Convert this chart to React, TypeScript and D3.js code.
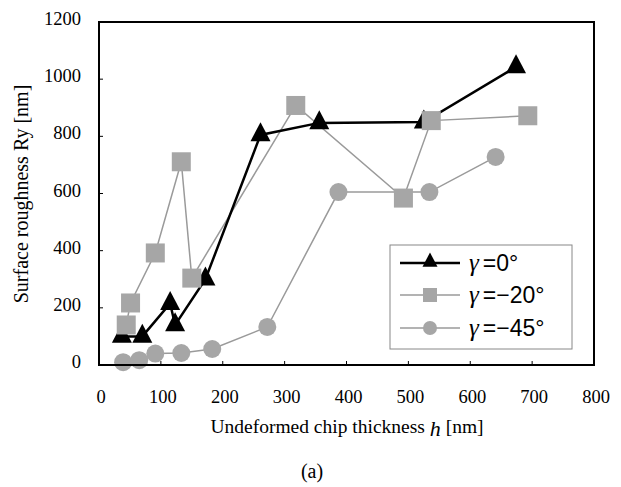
import React from "react";
import * as d3 from "d3";

const xTicks = [0, 100, 200, 300, 400, 500, 600, 700, 800];
const yTicks = [0, 200, 400, 600, 800, 1000, 1200];

const triX = [37, 70, 115, 123, 172, 261, 356, 525, 674];
const triY = [100, 100, 215, 140, 300, 805, 847, 850, 1043];

const sqX = [44, 51, 91, 133, 150, 318, 492, 537, 693];
const sqY = [140, 217, 392, 711, 304, 908, 584, 855, 872];

const ciX = [39, 65, 91, 133, 183, 272, 387, 534, 641];
const ciY = [10, 17, 40, 42, 56, 133, 605, 605, 728];

const legendLabels = ["=0°", "=−20°", "=−45°"];

const W = 621;
const H = 487;
const m = { left: 99, right: 594, top: 22, bottom: 365 };

export default function App() {
  const x = d3.scaleLinear().domain([0, 800]).range([m.left, m.right]);
  const y = d3.scaleLinear().domain([0, 1200]).range([m.bottom, m.top]);

  const line = d3
    .line<[number, number]>()
    .x((d) => x(d[0]))
    .y((d) => y(d[1]));

  const tri = triX.map((v, i) => [v, triY[i]] as [number, number]);
  const sq = sqX.map((v, i) => [v, sqY[i]] as [number, number]);
  const ci = ciX.map((v, i) => [v, ciY[i]] as [number, number]);

  const gray = "#a6a6a6";
  const grayLine = "#9a9a9a";

  const triPath = (cx: number, cy: number, w: number) => {
    const h = w * 0.95;
    return `M${cx},${cy - (2 * h) / 3}L${cx + w / 2},${cy + h / 3}L${cx - w / 2},${cy + h / 3}Z`;
  };

  const serif = "'Liberation Serif', 'Times New Roman', serif";
  const sans = "'Liberation Sans', Arial, sans-serif";

  const legX = 390;
  const legY = 245;
  const legW = 182;
  const legH = 104;
  const rows = [263, 295, 328];

  return (
    <svg
      width={W}
      height={H}
      style={{ position: "absolute", left: 0, top: 0, background: "#fff" }}
    >
      <rect x={0} y={0} width={W} height={H} fill="#fff" />
      {/* ticks */}
      {xTicks.map((t) => (
        <g key={"xt" + t}>
          <line x1={x(t)} x2={x(t)} y1={m.bottom} y2={m.bottom - 4} stroke="#000" strokeWidth={1} />
          <text x={x(t) + 2} y={403} textAnchor="middle" fontFamily={serif} fontSize={18.5}>
            {t}
          </text>
        </g>
      ))}
      {yTicks.map((t) => (
        <g key={"yt" + t}>
          <line x1={m.left} x2={m.left + 4} y1={y(t)} y2={y(t)} stroke="#000" strokeWidth={1} />
          <text x={81} y={y(t) + 3} textAnchor="end" fontFamily={serif} fontSize={18.5}>
            {t}
          </text>
        </g>
      ))}
      {/* lines */}
      <path d={line(ci) || ""} fill="none" stroke={grayLine} strokeWidth={1.5} />
      <path d={line(sq) || ""} fill="none" stroke={grayLine} strokeWidth={1.5} />
      <path d={line(tri) || ""} fill="none" stroke="#000" strokeWidth={2.5} />
      {/* markers */}
      {tri.map((d, i) => (
        <path key={"t" + i} d={triPath(x(d[0]), y(d[1]), 20)} fill="#000" />
      ))}
      {sq.map((d, i) => (
        <rect
          key={"s" + i}
          x={x(d[0]) - 9.5}
          y={y(d[1]) - 9.5}
          width={19}
          height={19}
          fill={gray}
        />
      ))}
      {ci.map((d, i) => (
        <circle key={"c" + i} cx={x(d[0])} cy={y(d[1])} r={9} fill={gray} />
      ))}
      {/* frame */}
      <rect
        x={m.left}
        y={m.top}
        width={m.right - m.left}
        height={m.bottom - m.top}
        fill="none"
        stroke="#000"
        strokeWidth={2}
      />
      {/* legend */}
      <rect x={legX} y={legY} width={legW} height={legH} fill="#fff" stroke="#888" strokeWidth={1} />
      {rows.map((ry, i) => (
        <g key={"l" + i}>
          <line
            x1={400}
            x2={460}
            y1={ry}
            y2={ry}
            stroke={i === 0 ? "#000" : grayLine}
            strokeWidth={i === 0 ? 2.5 : 1.5}
          />
          {i === 0 && <path d={triPath(430, ry - 1, 15)} fill="#000" />}
          {i === 1 && <rect x={423} y={ry - 7} width={14} height={14} fill={gray} />}
          {i === 2 && <circle cx={430} cy={ry} r={7} fill={gray} />}
          <text x={469} y={ry + 8} fontFamily={sans} fontSize={23}>
            <tspan fontFamily={serif} fontStyle="italic" fontSize={25}>
              γ
            </tspan>
            <tspan dx={4}>{legendLabels[i]}</tspan>
          </text>
        </g>
      ))}
      {/* axis titles */}
      <text
        transform={`translate(28,194) rotate(-90)`}
        textAnchor="middle"
        fontFamily={serif}
        fontSize={20}
      >
        Surface roughness Ry [nm]
      </text>
      <text x={347} y={433} textAnchor="middle" fontFamily={serif} fontSize={19.5}>
        Undeformed chip thickness{" "}
        <tspan fontStyle="italic" fontSize={22} dy={3}>
          h
        </tspan>
        <tspan dy={-3}> [nm]</tspan>
      </text>
      <text x={312} y={478} textAnchor="middle" fontFamily={serif} fontSize={20}>
        (a)
      </text>
    </svg>
  );
}
